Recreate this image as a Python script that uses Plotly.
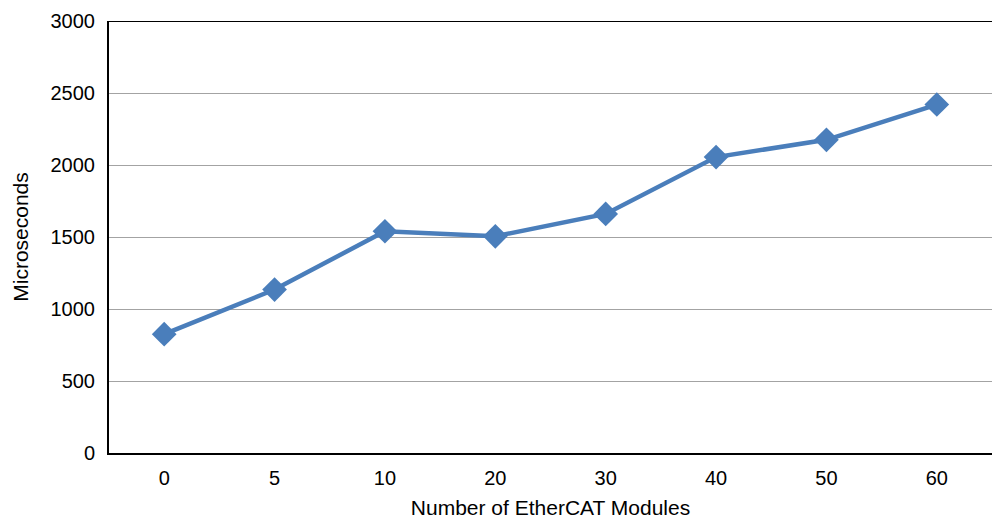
import plotly.graph_objects as go

modules = ["0", "5", "10", "20", "30", "40", "50", "60"]
microseconds = [825, 1135, 1540, 1505, 1660, 2055, 2175, 2420]
y_ticks = [0, 500, 1000, 1500, 2000, 2500, 3000]

color = "#4a7ebb"
font = "Liberation Sans, Arial, sans-serif"

fig = go.Figure()
fig.add_trace(go.Scatter(
    x=modules, y=microseconds, mode="lines+markers",
    line=dict(color=color, width=4.5),
    marker=dict(symbol="diamond", size=19, color=color),
    showlegend=False,
))

fig.update_layout(
    width=992, height=519,
    margin=dict(l=109, r=0, t=21, b=66),
    paper_bgcolor="white", plot_bgcolor="white",
    font=dict(family=font, size=20, color="black"),
    xaxis=dict(
        type="category", range=[-0.5, 7.5],
        showgrid=False, showline=True, linecolor="black", linewidth=2,
        ticks="", ticklabelstandoff=6,
        title=dict(text="Number of EtherCAT Modules", font=dict(size=21), standoff=12),
    ),
    yaxis=dict(
        range=[0, 3000], tickvals=y_ticks,
        showgrid=True, gridcolor="#a3a3a3", gridwidth=1,
        showline=True, linecolor="black", linewidth=2,
        ticks="", ticklabelstandoff=8, zeroline=False,
        title=dict(text="Microseconds", font=dict(size=21), standoff=16),
    ),
    shapes=[dict(type="line", xref="paper", yref="y", x0=0, x1=1, y0=3000, y1=3000,
                 line=dict(color="black", width=2))],
)

fig.write_html("out.html", config={"displayModeBar": False},
               post_script="document.body.style.margin='0';document.body.style.overflow='hidden';")
